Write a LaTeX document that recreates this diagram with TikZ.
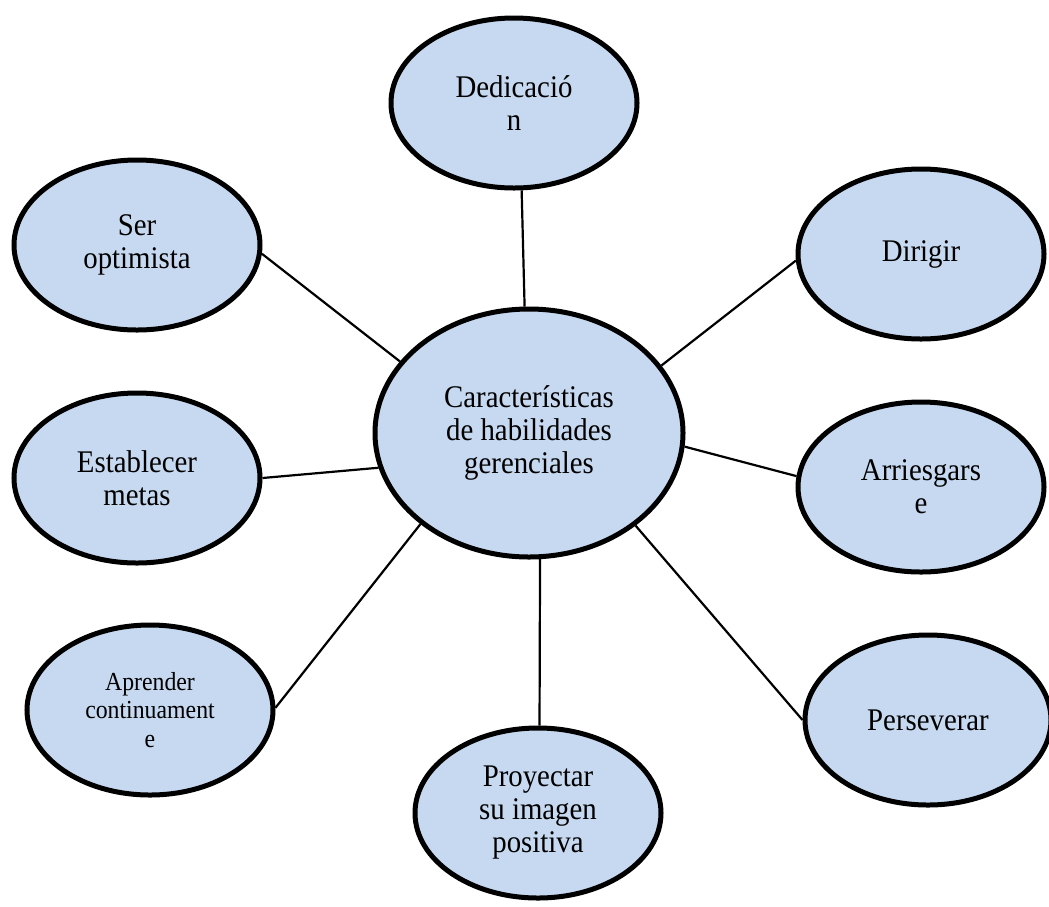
\documentclass[tikz,border=0pt]{standalone}
\usepackage{fontspec}
\setmainfont{Liberation Serif}[FakeStretch=0.915]
\usetikzlibrary{shapes.geometric}
\definecolor{bubblefill}{RGB}{198,217,240}
\tikzset{
  bubble/.style={ellipse, draw=black, line width=5pt, fill=bubblefill,
    inner sep=0pt, minimum width=246pt, minimum height=170pt,
    align=center, font=\fontsize{31.5}{33}\selectfont},
  hub/.style={bubble, minimum width=308pt, minimum height=248pt},
  smalltext/.style={font=\fontsize{26}{28.5}\selectfont},
  link/.style={draw=black, line width=2.2pt}
}
\begin{document}
\begin{tikzpicture}[x=1pt, y=-1pt]
  \useasboundingbox (0,0) rectangle (1049,906);
  % central concept
  \node[hub] (c) at (529,433) {Características\\de habilidades\\gerenciales};
  % surrounding characteristics
  \node[bubble] (ded) at (514,103) {Dedicació\\n};
  \node[bubble] (ser) at (137,245) {Ser\\optimista};
  \node[bubble] (dir) at (921,254) {Dirigir};
  \node[bubble] (est) at (137,478) {Establecer\\metas};
  \node[bubble] (arr) at (921,487) {Arriesgars\\e};
  \node[bubble, smalltext] (apr) at (150,710) {Aprender\\continuament\\e};
  \node[bubble] (pro) at (538,813) {Proyectar\\su imagen\\positiva};
  \node[bubble] (per) at (928,720) {Perseverar};
  % spokes from the hub to each characteristic
  \draw[link] (c.92.7) -- (ded.275.9);
  \draw[link] (c.151.2) -- (ser.356.8);
  \draw[link] (c.27.1) -- (dir.183.7);
  \draw[link] (c.193) -- (est.east);
  \draw[link] (c.355.9) -- (arr.175.4);
  \draw[link] (c.220.2) -- (apr.1.4);
  \draw[link] (c.275) -- (pro.89);
  \draw[link] (c.319.2) -- (per.west);
\end{tikzpicture}
\end{document}
